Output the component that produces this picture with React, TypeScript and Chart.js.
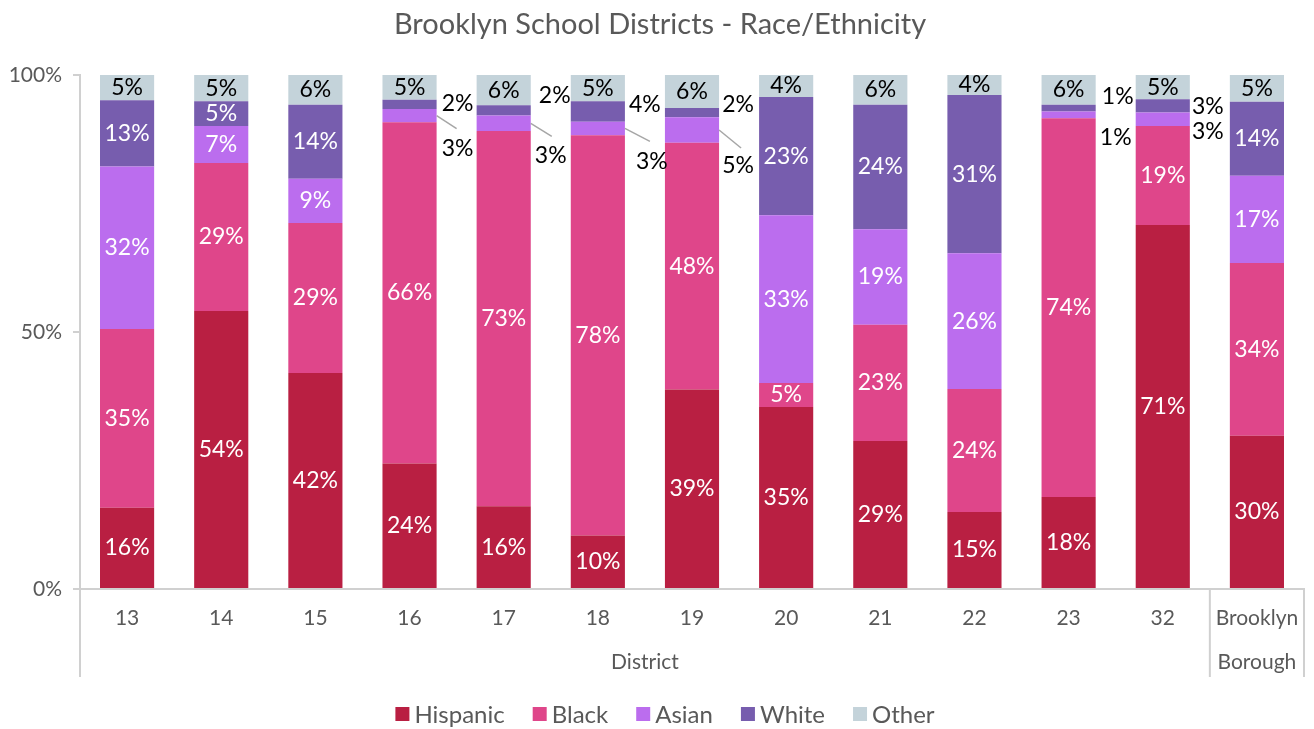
import React, { useEffect, useRef } from "react";
import { Chart, registerables } from "chart.js";

Chart.register(...registerables);

const categories: (string | string[])[] = ["13", "14", "15", "16", "17", "18", "19", "20", "21", "22", "23", "32", ["Brooklyn", "Borough"]];
const seriesNames = ["Hispanic", "Black", "Asian", "White", "Other"];
const hispanic = [15.8, 54.1, 42.0, 24.4, 16.1, 10.4, 38.8, 35.4, 28.8, 15.0, 17.9, 70.8, 29.8];
const black = [34.8, 28.8, 29.2, 66.4, 73.0, 77.9, 48.0, 4.7, 22.6, 23.9, 73.7, 19.3, 33.6];
const asian = [31.6, 7.2, 8.6, 2.6, 3.0, 2.6, 5.0, 32.6, 18.6, 26.4, 1.3, 2.6, 17.0];
const white = [12.9, 4.8, 14.4, 1.8, 2.0, 4.0, 1.8, 23.0, 24.2, 30.8, 1.3, 2.6, 14.4];
const other = [4.9, 5.1, 5.8, 4.8, 5.9, 5.1, 6.4, 4.3, 5.8, 3.9, 5.8, 4.7, 5.2];
const yTicks = [0, 50, 100];
const groupLabel = "District";
const title = "Brooklyn School Districts - Race/Ethnicity";

const colors = ["#B91F42", "#DF468A", "#BB6DEE", "#775DAE", "#C4D3DA"];
const labelColors = ["#FFFFFF", "#FFFFFF", "#FFFFFF", "#FFFFFF", "#000000"];
const FONT = "Lato, 'Noto Sans', sans-serif";
const GRAY = "#595959";
const AXIS = "#D0D0D0";

// callout placement for thin segments: offsets relative to (bar right edge, segment center)
const callouts: Record<string, { dx: number; dy: number; line?: [number, number] }> = {
  "3:3": { dx: 21, dy: -1 },
  "3:2": { dx: 21, dy: 33, line: [20, 13] },
  "4:3": { dx: 24, dy: -15 },
  "4:2": { dx: 20, dy: 32, line: [21, 13] },
  "5:3": { dx: 20, dy: -7 },
  "5:2": { dx: 27, dy: 33, line: [25, 13] },
  "6:3": { dx: 19, dy: -8 },
  "6:2": { dx: 19, dy: 36, line: [22, 18] },
  "10:3": { dx: 22, dy: -12 },
  "10:2": { dx: 20, dy: 23 },
  "11:3": { dx: 18, dy: 1 },
  "11:2": { dx: 18, dy: 12 },
};

const labelsPlugin = {
  id: "customLabels",
  afterDraw(chart: any) {
    const ctx = chart.ctx as CanvasRenderingContext2D;
    const area = chart.chartArea;
    const xScale = chart.scales.x;
    ctx.save();
    // data labels
    ctx.font = `23px ${FONT}`;
    ctx.textAlign = "center";
    ctx.textBaseline = "middle";
    chart.data.datasets.forEach((ds: any, d: number) => {
      const meta = chart.getDatasetMeta(d);
      meta.data.forEach((bar: any, i: number) => {
        const v = ds.data[i];
        const txt = Math.round(v) + "%";
        const cy = (bar.y + bar.base) / 2;
        const right = bar.x + bar.width / 2;
        const c = callouts[`${i}:${d}`];
        if (c) {
          if (c.line) {
            ctx.strokeStyle = "#A6A6A6";
            ctx.lineWidth = 1.5;
            ctx.beginPath();
            ctx.moveTo(right, cy);
            ctx.lineTo(right + c.line[0], cy + c.line[1]);
            ctx.stroke();
          }
          ctx.fillStyle = "#000000";
          ctx.fillText(txt, right + c.dx, cy + c.dy);
        } else {
          ctx.fillStyle = labelColors[d];
          ctx.fillText(txt, bar.x, cy);
        }
      });
    });
    // axis extensions and group separators
    const bottomExt = 677;
    const sep = (xScale.getPixelForValue(11) + xScale.getPixelForValue(12)) / 2;
    ctx.strokeStyle = AXIS;
    ctx.lineWidth = 2;
    ctx.beginPath();
    ctx.moveTo(area.left, area.bottom);
    ctx.lineTo(area.left, bottomExt);
    ctx.moveTo(sep, area.bottom);
    ctx.lineTo(sep, bottomExt);
    ctx.moveTo(area.right, area.bottom);
    ctx.lineTo(area.right, bottomExt);
    ctx.stroke();
    ctx.fillStyle = GRAY;
    ctx.font = `21px ${FONT}`;
    ctx.fillText(groupLabel, (area.left + sep) / 2, 662);
    // title
    ctx.font = `29px ${FONT}`;
    ctx.fillText(title, 660, 25);
    // legend
    ctx.font = `24px ${FONT}`;
    const box = 14;
    const gapText = 5;
    const gapItem = 28;
    const widths = seriesNames.map((n) => box + gapText + ctx.measureText(n).width);
    const total = widths.reduce((a, b) => a + b, 0) + gapItem * (seriesNames.length - 1);
    let x = 665 - total / 2;
    const ly = 714;
    ctx.textAlign = "left";
    seriesNames.forEach((n, k) => {
      ctx.fillStyle = colors[k];
      ctx.fillRect(x, ly - box / 2, box, box);
      ctx.fillStyle = GRAY;
      ctx.fillText(n, x + box + gapText, ly + 1);
      x += widths[k] + gapItem;
    });
    ctx.restore();
  },
};

export default function App() {
  const ref = useRef<HTMLCanvasElement | null>(null);
  useEffect(() => {
    if (!ref.current) return;
    const seriesData = [hispanic, black, asian, white, other];
    const chart = new Chart(ref.current, {
      type: "bar",
      data: {
        labels: categories as any,
        datasets: seriesNames.map((name, k) => ({
          label: name,
          data: seriesData[k],
          backgroundColor: colors[k],
          borderWidth: 0,
          categoryPercentage: 1,
          barPercentage: 0.575,
        })),
      },
      options: {
        responsive: false,
        animation: false,
        devicePixelRatio: 1,
        layout: { padding: { top: 75, left: 0, right: 10, bottom: 40 } },
        plugins: { legend: { display: false }, title: { display: false }, tooltip: { enabled: false } },
        scales: {
          x: {
            stacked: true,
            grid: { display: false },
            border: { color: AXIS, width: 2 },
            ticks: {
              color: GRAY,
              font: { family: FONT, size: 21, lineHeight: 44 / 21 },
              padding: -1,
              maxRotation: 0,
              autoSkip: false,
            },
            afterFit: (s: any) => {
              s.height = 100;
            },
          },
          y: {
            stacked: true,
            min: 0,
            max: 100,
            afterBuildTicks: (s: any) => {
              s.ticks = yTicks.map((v) => ({ value: v }));
            },
            grid: { drawOnChartArea: false, color: AXIS, tickLength: 7, lineWidth: 2 },
            border: { color: AXIS, width: 2 },
            ticks: {
              color: GRAY,
              font: { family: FONT, size: 21 },
              padding: 11,
              callback: (v: any) => v + "%",
            },
            afterFit: (s: any) => {
              s.width = 80;
            },
          },
        },
      },
      plugins: [labelsPlugin],
    });
    return () => chart.destroy();
  }, []);
  return (
    <div style={{ position: "absolute", left: 0, top: 0, width: 1314, height: 729, background: "#fff" }}>
      <canvas ref={ref} width={1314} height={729} />
    </div>
  );
}
